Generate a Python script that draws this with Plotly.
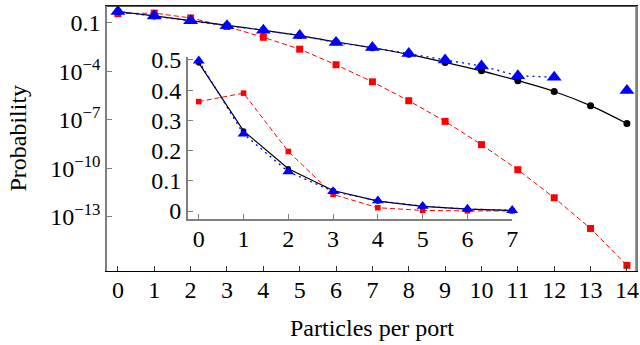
import plotly.graph_objects as go

particles = list(range(15))
p_black = [0.49, 0.26, 0.135, 0.068, 0.034, 0.016, 0.0065, 0.0028, 0.0011,
           0.00035, 1.05e-4, 2.6e-5, 5.6e-6, 7.4e-7, 5.8e-8]
p_red = [0.36, 0.39, 0.195, 0.058, 0.0125, 0.0023, 2.5e-4, 2.2e-5, 1.5e-6,
         7.9e-8, 2.9e-9, 8.1e-11, 1.5e-12, 1.9e-14, 1.0e-16]
p_blue = [0.49, 0.255, 0.13, 0.065, 0.034, 0.016, 0.0059, 0.0029, 0.00126,
          0.0005, 2.1e-4, 5.2e-5, 4.2e-5, None, 6.3e-6]

inset_n = 8
inset_x = particles[:inset_n]
inset_black = [0.49, 0.265, 0.14, 0.068, 0.033, 0.0155, 0.006, 0.002]
inset_red = [0.362, 0.39, 0.197, 0.055, 0.011, 0.002, 0.0005, 0.0002]
inset_blue = [0.497, 0.255, 0.13, 0.065, 0.034, 0.016, 0.0065, 0.0025]

y_tickvals = [1e-1, 1e-4, 1e-7, 1e-10, 1e-13]
y_ticktext = ["0.1", "10<sup>\u22124</sup>", "10<sup>\u22127</sup>",
              "10<sup>\u221210</sup>", "10<sup>\u221213</sup>"]
inset_yticks = [0, 0.1, 0.2, 0.3, 0.4, 0.5]
inset_yticktext = ["0", "0.1", "0.2", "0.3", "0.4", "0.5"]

FONT = "Liberation Serif"
GRAY = "#7f7f7f"
FS = 24

fig = go.Figure()

def add_series(x, red, black, blue, xa, ya, big):
    ms = 1.0 if big else 0.8
    fig.add_trace(go.Scatter(x=x, y=red, mode="lines+markers", xaxis=xa, yaxis=ya,
                             line=dict(color="#ff0000", width=1, dash="5px,3px"),
                             marker=dict(symbol="square", size=7 * ms, color="#ff0000"),
                             cliponaxis=False, showlegend=False))
    fig.add_trace(go.Scatter(x=x, y=black, mode="lines+markers", xaxis=xa, yaxis=ya,
                             line=dict(color="black", width=1.2,
                                       shape="spline" if big else "linear"),
                             marker=dict(symbol="circle", size=7 * ms, color="black"),
                             cliponaxis=False, showlegend=False))
    fig.add_trace(go.Scatter(x=x, y=blue, mode="lines+markers", xaxis=xa, yaxis=ya,
                             line=dict(color="#0000ff", width=1.3, dash="2px,4px"),
                             marker=dict(symbol="triangle-up", size=13 * ms, color="#0000ff"),
                             connectgaps=False, cliponaxis=False, showlegend=False))

add_series(particles, p_red, p_black, p_blue, "x", "y", True)
add_series(inset_x, inset_red, inset_black, inset_blue, "x2", "y2", False)

tickfont = dict(family=FONT, size=FS, color="black")
common = dict(showgrid=False, zeroline=False, tickfont=tickfont, automargin=False,
              ticks="inside", ticklen=5, showline=True)

fig.update_layout(
    width=640, height=345,
    margin=dict(l=107, r=4, t=6, b=74),
    paper_bgcolor="white", plot_bgcolor="rgba(0,0,0,0)",
    font=dict(family=FONT, size=FS, color="black"),
    xaxis=dict(range=[-0.3, 14.25], tickvals=particles, tickcolor="#333",
               linecolor="black", linewidth=1.3, domain=[0, 1], ticklabelstandoff=-3,
               mirror=True, **common),
    yaxis=dict(type="log", range=[-16.35, 0.03], tickvals=y_tickvals, ticktext=y_ticktext,
               tickcolor=GRAY, linecolor=GRAY, linewidth=1.5, mirror=True,
               domain=[0, 1], **common),
    xaxis2=dict(range=[-0.244, 7.0], tickvals=inset_x, tickcolor=GRAY, linecolor=GRAY,
                linewidth=1.5, anchor="y2", domain=[0.1528, 0.766], ticklabelstandoff=-3,
                **common),
    yaxis2=dict(range=[-0.027, 0.51], tickvals=inset_yticks, ticktext=inset_yticktext,
                tickcolor=GRAY, linecolor=GRAY, linewidth=1.5, anchor="x2",
                domain=[0.1955, 0.808], **common),
    shapes=[
        dict(type="line", xref="x domain", yref="y domain", x0=0, x1=1, y0=1, y1=1,
             line=dict(color="#222222", width=1.5), layer="above"),
        dict(type="line", xref="x domain", yref="y domain", x0=1, x1=1, y0=0, y1=1,
             line=dict(color=GRAY, width=1.5), layer="above"),
    ],
    annotations=[
        dict(text="Particles per port", xref="paper", yref="paper", x=0.5, y=-0.214,
             xanchor="center", yanchor="middle", showarrow=False,
             font=dict(family=FONT, size=FS, color="black")),
        dict(text="Probability", xref="paper", yref="paper", x=-0.17, y=0.5,
             xanchor="center", yanchor="middle", textangle=-90, showarrow=False,
             font=dict(family=FONT, size=FS, color="black")),
    ],
)

fig.write_html("out.html")
